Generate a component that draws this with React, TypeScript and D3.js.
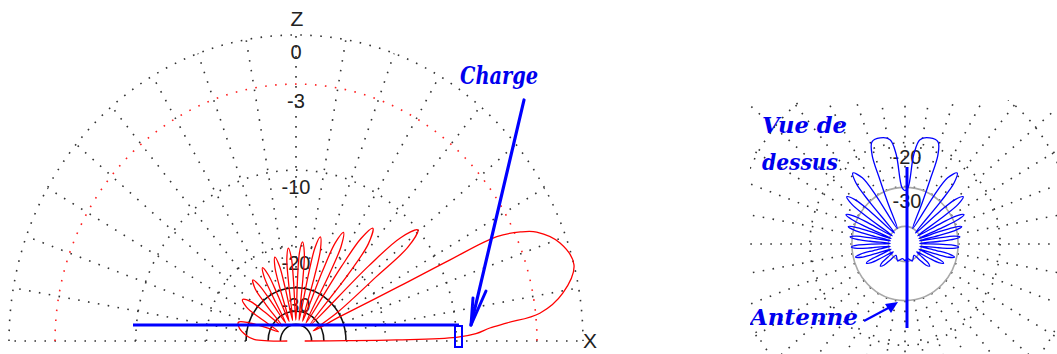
import React from "react";
import * as d3 from "d3";

const W = 1057;
const H = 354;

// ARRL logarithmic polar scale: the radius shrinks by 0.89 for every 2 dB
const dbScale = d3.scaleLog().domain([Math.pow(0.89, 25), 1]).range([-50, 0]);
const rel = (db: number) => dbScale.invert(db);

// ---- elevation plot (side view), angle from the +X horizon, dB ----
const elevDottedRings = [0, -10, -20];
const elevRedRings = [-3];
const elevSolidRings = [-30, -40, -50];
const elevLabelDb = [0, -3, -10, -20, -30];
const elevLabelText = ["0", "-3", "-10", "-20", "-30"];

const elevAngles = [
  0, 0.3, 0.6, 1.2, 2.2, 3.6, 4.6, 6.1, 9.6, 14.4, 19.2, 23, 24.5, 26, 26.3, 26.4, 27.5, 29,
  33, 36.9, 38.2, 40.5, 42.8, 44.1, 47,
  50.15, 51.55, 54, 55.9, 57, 59.5,
  62, 63.1, 65, 66.9, 68, 70.5,
  73, 74.1, 76, 77.75, 78.75, 81,
  83.25, 84.25, 86, 87.6, 88.5, 90.5,
  92.5, 93.4, 95, 96.75, 97.75, 100,
  102.25, 103.25, 105, 106.9, 108, 110.5,
  113, 114.1, 116, 117.9, 119, 121.5,
  124, 125.1, 127, 129.8, 131.4, 135,
  139.05, 140.85, 144, 147.3, 149.2, 153.5,
  157, 160, 163, 168, 174, 178, 179.6, 180,
];
const elevGains = [
  -60, -30, -18, -10, -8, -6.7, -5.2, -2.7, -1.0, 0, -0.45, -1.6, -2.6, -4.3, -8.8, -15.6, -30, -46,
  -30, -18, -12, -10, -12, -18, -46,
  -21.5, -15.5, -13.5, -15.5, -21.5, -46,
  -24.1, -18.1, -16.1, -18.1, -24.1, -46,
  -26, -20, -18, -20, -26, -46,
  -27.3, -21.3, -19.3, -21.3, -27.3, -46,
  -28.4, -22.4, -20.4, -22.4, -28.4, -46,
  -29.6, -23.6, -21.6, -23.6, -29.6, -46,
  -30.7, -24.7, -22.7, -24.7, -30.7, -46,
  -31.8, -25.8, -23.8, -25.8, -31.8, -46,
  -33.2, -27.2, -25.2, -27.2, -33.2, -46,
  -38, -30, -26.8, -27.5, -30, -33, -40, -60,
];

// ---- azimuth plot (top view), angle from the wire axis, one side (pattern is symmetric) ----
const azDottedRings = [0, -10, -20];
const azRedRings = [-3];
const azGrayRings = [-30, -50];
const azLabelDb = [-20, -30];
const azLabelText = ["-20", "-30"];

const azAngles = [
  0, 3.3, 6, 8.7, 14, 19, 21.5, 22.6, 24, 28,
  32.5, 34.5, 38, 40.6, 41.9, 45.5,
  48.7, 50.2, 52.7, 54.9, 56.2, 59,
  61.7, 62.9, 65, 66.6, 67.5, 69.5,
  71.5, 72.4, 74, 75.6, 76.5, 78.5,
  80.5, 81.4, 83, 84.75, 85.75, 88,
  90.25, 91.25, 93, 94.9, 96, 98.5,
  101, 102.1, 104, 105.9, 107, 109.5,
  112, 113.1, 115, 117.45, 118.85, 122,
  125.6, 127.2, 130, 133.5, 135.5, 140,
  155, 170, 180,
];
const azGains = [
  -31, -30, -22, -19.3, -18.7, -18.9, -21, -26.5, -34, -50,
  -30, -24, -22, -24, -30, -52,
  -32.5, -26.5, -24.5, -26.5, -32.5, -52,
  -34.5, -28.5, -26.5, -28.5, -34.5, -52,
  -36.2, -30.2, -28.2, -30.2, -36.2, -52,
  -37.3, -31.3, -29.3, -31.3, -37.3, -52,
  -37.8, -31.8, -29.8, -31.8, -37.8, -52,
  -38.7, -32.7, -30.7, -32.7, -38.7, -52,
  -41.8, -35.8, -33.8, -35.8, -41.8, -53,
  -46, -40.6, -38.6, -40.6, -46, -53,
  -49, -53, -51,
];

const spokeStep = 10;

type Geo = { cx: number; cy: number; rx: number; ry: number };
const elevGeo: Geo = { cx: 296, cy: 341, rx: 287, ry: 306 };
const azGeo: Geo = { cx: 905, cy: 244, rx: 305, ry: 325 };

const DOT = "1.6 8.4";
const GRID = "#333";

const curve = d3.line<[number, number]>().curve(d3.curveCatmullRom.alpha(0.5));
const closedCurve = d3.line<[number, number]>().curve(d3.curveCatmullRomClosed.alpha(0.5));

function elevPoint(g: Geo, deg: number, db: number): [number, number] {
  const a = (deg * Math.PI) / 180;
  const r = rel(db);
  return [g.cx + g.rx * r * Math.cos(a), g.cy - g.ry * r * Math.sin(a)];
}

function azPoint(g: Geo, deg: number, db: number): [number, number] {
  const a = (deg * Math.PI) / 180;
  const r = rel(db);
  return [g.cx + g.rx * r * Math.sin(a), g.cy - g.ry * r * Math.cos(a)];
}

function halfArc(g: Geo, db: number) {
  const r = rel(db);
  const rx = g.rx * r;
  const ry = g.ry * r;
  return `M${g.cx - rx},${g.cy} A${rx},${ry} 0 0 1 ${g.cx + rx},${g.cy}`;
}

const labelFont = "'Liberation Sans', Arial, sans-serif";
const noteFont = "'DejaVu Serif', serif";

function ElevationPlot() {
  const g = elevGeo;
  const spokes = d3.range(0, 181, spokeStep);
  const pts = elevAngles.map((a, i) => elevPoint(g, a, elevGains[i]));
  return (
    <g>
      {spokes.map((s) => {
        const p0 = elevPoint(g, s, -30);
        const p1 = elevPoint(g, s, 0);
        return (
          <line key={"s" + s} x1={p0[0]} y1={p0[1]} x2={p1[0]} y2={p1[1]}
            stroke={GRID} strokeWidth={1.6} strokeDasharray={DOT} />
        );
      })}
      {elevDottedRings.map((db) => (
        <path key={"d" + db} d={halfArc(g, db)} fill="none" stroke={GRID}
          strokeWidth={1.6} strokeDasharray={DOT} />
      ))}
      {elevRedRings.map((db) => (
        <path key={"r" + db} d={halfArc(g, db)} fill="none" stroke="#ff2020"
          strokeWidth={1.6} strokeDasharray={DOT} />
      ))}
      {elevSolidRings.map((db) => (
        <path key={"k" + db} d={halfArc(g, db)} fill="none" stroke="#111" strokeWidth={1.6} />
      ))}
      {elevLabelDb.map((db, i) => (
        <text key={"l" + db} x={g.cx} y={g.cy - g.ry * rel(db) + 24} textAnchor="middle"
          fontFamily={labelFont} fontSize={20} fill="#222">
          {elevLabelText[i]}
        </text>
      ))}
      <text x={g.cx + 1} y={26} textAnchor="middle" fontFamily={labelFont} fontSize={21} fill="#222">Z</text>
      <text x={590} y={348} textAnchor="middle" fontFamily={labelFont} fontSize={21} fill="#222">X</text>

      <path d={curve(pts) ?? ""} fill="none" stroke="#ff0000" strokeWidth={1.3} />

      {/* wire and its terminating load */}
      <line x1={133} y1={325} x2={459} y2={325} stroke="#0000ff" strokeWidth={3} />
      <rect x={455} y={326} width={7} height={21} fill="none" stroke="#0000ff" strokeWidth={2} />

      {/* "Charge" annotation */}
      <text x={460} y={84} fontFamily={noteFont} fontWeight="bold" fontStyle="italic" fontSize={25}
        fill="#0000ee" textLength={78} lengthAdjust="spacingAndGlyphs">Charge</text>
      <line x1={524} y1={100} x2={471} y2={325} stroke="#0000ff" strokeWidth={3.2} strokeLinecap="round" />
      <polyline points="473,298 471,325 486,291" fill="none" stroke="#0000ff" strokeWidth={3}
        strokeLinecap="round" strokeLinejoin="round" />
    </g>
  );
}

function AzimuthPlot() {
  const g = azGeo;
  const spokes = d3.range(0, 360, spokeStep);
  const rightSide = azAngles.map((a, i) => azPoint(g, a, azGains[i]));
  const leftSide = azAngles
    .slice(1, -1)
    .map((a, i) => azPoint(g, -a, azGains[i + 1]))
    .reverse();
  const loop = rightSide.concat(leftSide);
  const ell = (db: number) => ({ rx: g.rx * rel(db), ry: g.ry * rel(db) });
  return (
    <g clipPath="url(#azClip)">
      {spokes.map((s) => {
        const p0 = azPoint(g, s, -30);
        const p1 = azPoint(g, s, 3);
        return (
          <line key={"s" + s} x1={p0[0]} y1={p0[1]} x2={p1[0]} y2={p1[1]}
            stroke={GRID} strokeWidth={1.6} strokeDasharray={DOT} />
        );
      })}
      {azDottedRings.map((db) => (
        <ellipse key={"d" + db} cx={g.cx} cy={g.cy} {...ell(db)} fill="none" stroke={GRID}
          strokeWidth={1.6} strokeDasharray={DOT} />
      ))}
      {azRedRings.map((db) => (
        <ellipse key={"r" + db} cx={g.cx} cy={g.cy} {...ell(db)} fill="none" stroke="#ff2020"
          strokeWidth={1.6} strokeDasharray={DOT} />
      ))}
      {azGrayRings.map((db) => (
        <ellipse key={"k" + db} cx={g.cx} cy={g.cy} {...ell(db)} fill="none" stroke="#a8a8a8" strokeWidth={1.6} />
      ))}
      {azLabelDb.map((db, i) => (
        <text key={"l" + db} x={g.cx + 2} y={g.cy - g.ry * rel(db) + 21} textAnchor="middle"
          fontFamily={labelFont} fontSize={20} fill="#222">
          {azLabelText[i]}
        </text>
      ))}

      <path d={closedCurve(loop) ?? ""} fill="none" stroke="#0000ff" strokeWidth={1.3} />

      {/* the wire seen from above */}
      <line x1={907} y1={167} x2={907} y2={328} stroke="#0000ff" strokeWidth={3} />

      <text x={762} y={133} fontFamily={noteFont} fontWeight="bold" fontStyle="italic" fontSize={22}
        fill="#0000ee" textLength={85} lengthAdjust="spacingAndGlyphs">Vue de</text>
      <text x={762} y={170} fontFamily={noteFont} fontWeight="bold" fontStyle="italic" fontSize={22}
        fill="#0000ee" textLength={76} lengthAdjust="spacingAndGlyphs">dessus</text>
      <text x={750} y={325} fontFamily={noteFont} fontWeight="bold" fontStyle="italic" fontSize={23}
        fill="#0000ee" textLength={108} lengthAdjust="spacingAndGlyphs">Antenne</text>
      <line x1={864} y1={321} x2={892} y2={306} stroke="#0000ff" strokeWidth={2.2} />
      <polygon points="898,302 885,304 891,313" fill="#0000ff" />
    </g>
  );
}

export default function App() {
  return (
    <svg width={W} height={H} viewBox={`0 0 ${W} ${H}`}
      style={{ display: "block", position: "absolute", left: 0, top: 0, background: "#fff" }}>
      <defs>
        <clipPath id="azClip">
          <rect x={750} y={100} width={W - 750} height={H - 100} />
        </clipPath>
      </defs>
      <rect width={W} height={H} fill="#fff" />
      <ElevationPlot />
      <AzimuthPlot />
    </svg>
  );
}
